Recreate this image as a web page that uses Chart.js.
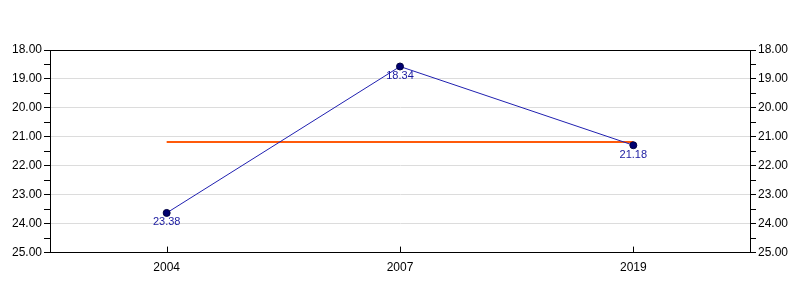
<!DOCTYPE html>
<html>
<head>
<meta charset="utf-8">
<script src="https://cdn.jsdelivr.net/npm/chart.js@4"></script>
<style>
	html, body { margin: 0; padding: 0; background: #fff; }
	#wrap { width: 800px; height: 300px; }
</style>
</head>
<body>
<div id="wrap"><canvas id="chart" width="800" height="300"></canvas></div>
<script>
// значения с картинки
const years = ["2004", "2007", "2019"];
const values = [23.63, 18.57, 21.29];
const pointLabels = ["23.38", "18.34", "21.18"];
const refLine = [21.18, 21.18, 21.18];

const ctx = document.getElementById("chart");

// рамка сверху, внутренние засечки по X и подписи точек
const extras = {
	id: "extras",
	afterDraw(chart) {
		const c = chart.ctx;
		const area = chart.chartArea;
		const xs = chart.scales.x;
		c.save();
		c.strokeStyle = "#000";
		c.lineWidth = 1;
		c.beginPath();
		c.moveTo(area.left, area.top + 0.5);
		c.lineTo(area.right, area.top + 0.5);
		years.forEach((y, i) => {
			const px = Math.round(xs.getPixelForValue(i)) + 0.5;
			c.moveTo(px, area.bottom);
			c.lineTo(px, area.bottom - 6);
		});
		c.stroke();

		const meta = chart.getDatasetMeta(0);
		c.fillStyle = "#1a1aa0";
		c.font = "11px 'Liberation Sans', Arial, sans-serif";
		c.textAlign = "center";
		c.textBaseline = "top";
		meta.data.forEach((pt, i) => {
			c.fillText(pointLabels[i], pt.x, pt.y + 4);
		});
		c.restore();
	},
};

const yAxis = (pos) => ({
	type: "linear",
	position: pos,
	min: 18,
	max: 25,
	reverse: true,
	afterFit: (scale) => { scale.width = 50; },
	ticks: {
		stepSize: 0.5,
		autoSkip: false,
		color: "#000",
		padding: 2,
		font: { family: "'Liberation Sans', Arial, sans-serif", size: 12 },
		callback: (v) => (Number.isInteger(v) ? v.toFixed(2) : ""),
	},
	grid: {
		drawOnChartArea: pos === "left",
		color: (c) => (c.tick && Number.isInteger(c.tick.value) ? "#dcdcdc" : "rgba(0,0,0,0)"),
		tickColor: "#000",
		tickLength: 6,
	},
	border: { color: "#000", width: 1 },
});

new Chart(ctx, {
	type: "line",
	data: {
		labels: years,
		datasets: [
			{
				data: values,
				borderColor: "#2020b0",
				borderWidth: 1,
				pointRadius: 3.5,
				pointBackgroundColor: "#000070",
				pointBorderColor: "#000040",
				pointBorderWidth: 1,
				tension: 0,
				yAxisID: "y",
			},
			{
				data: refLine,
				borderColor: "#ff5a0a",
				borderWidth: 2,
				pointRadius: 0,
				tension: 0,
				yAxisID: "y",
			},
		],
	},
	options: {
		responsive: false,
		animation: false,
		layout: { padding: { top: 50, bottom: 17, left: 0, right: 0 } },
		plugins: {
			legend: { display: false },
			tooltip: { enabled: false },
		},
		scales: {
			x: {
				type: "category",
				offset: true,
				grid: { display: true, drawOnChartArea: false, tickLength: 0, offset: false },
				border: { color: "#000", width: 1 },
				ticks: {
					color: "#000",
					padding: 8,
					font: { family: "'Liberation Sans', Arial, sans-serif", size: 12 },
				},
			},
			y: yAxis("left"),
			y2: yAxis("right"),
		},
	},
	plugins: [extras],
});
</script>
</body>
</html>
